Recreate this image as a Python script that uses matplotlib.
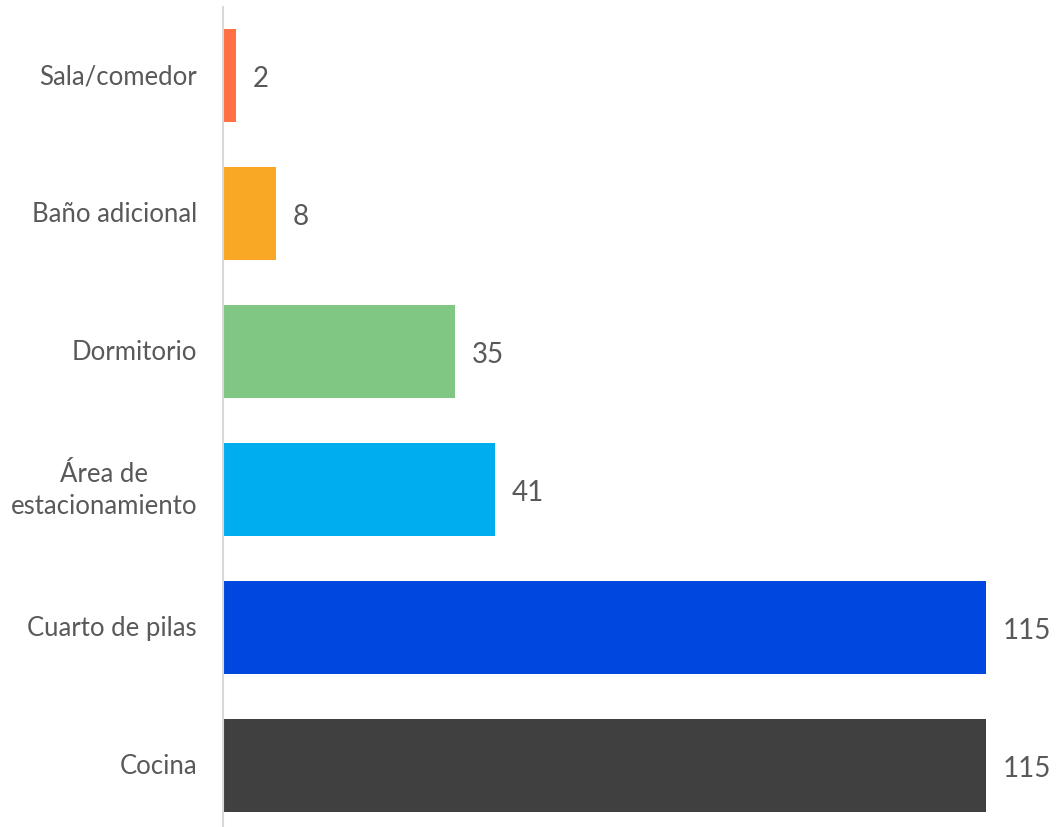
import matplotlib
matplotlib.use("Agg")
import matplotlib.pyplot as plt
import matplotlib.transforms as mtrans

categories = ["Cocina", "Cuarto de pilas", "Área de\nestacionamiento", "Dormitorio", "Baño adicional", "Sala/comedor"]
values = [115, 115, 41, 35, 8, 2]
colors = ["#404040", "#0047E0", "#00AEEF", "#81C784", "#F9A825", "#FF7043"]

plt.rcParams['font.family'] = ['Lato', 'DejaVu Sans']
W, H = 1056, 828
fig = plt.figure(figsize=(W/100, H/100), dpi=100)
ax = fig.add_axes([223/W, 0, (W-223)/W, (H-8)/H])

y = list(range(len(categories)))
ax.barh(y, values, height=0.674, color=colors, left=0)
ax.set_xlim(0, 115*(W-223)/(986-223))
ax.set_ylim(-0.4455, 5.4965)

for yi, v in zip(y, values):
    ax.annotate(str(v), (v, yi), xytext=(12, -1.5), textcoords='offset points',
                va='center', ha='left', fontsize=20, color='#595959', clip_on=False)

ax.set_yticks([])
ax.set_xticks([])
trans = mtrans.blended_transform_factory(fig.transFigure, ax.transData)
for yi, c in zip(y, categories):
    ax.text(197/W, yi, c, transform=trans, ha='right', va='center',
            multialignment='center', fontsize=18.5, color='#595959',
            linespacing=1.35)

for s in ['top', 'right', 'bottom']:
    ax.spines[s].set_visible(False)
ax.spines['left'].set_color('#D9D9D9')
ax.spines['left'].set_linewidth(1.5)

fig.savefig("out.png", dpi=100)
